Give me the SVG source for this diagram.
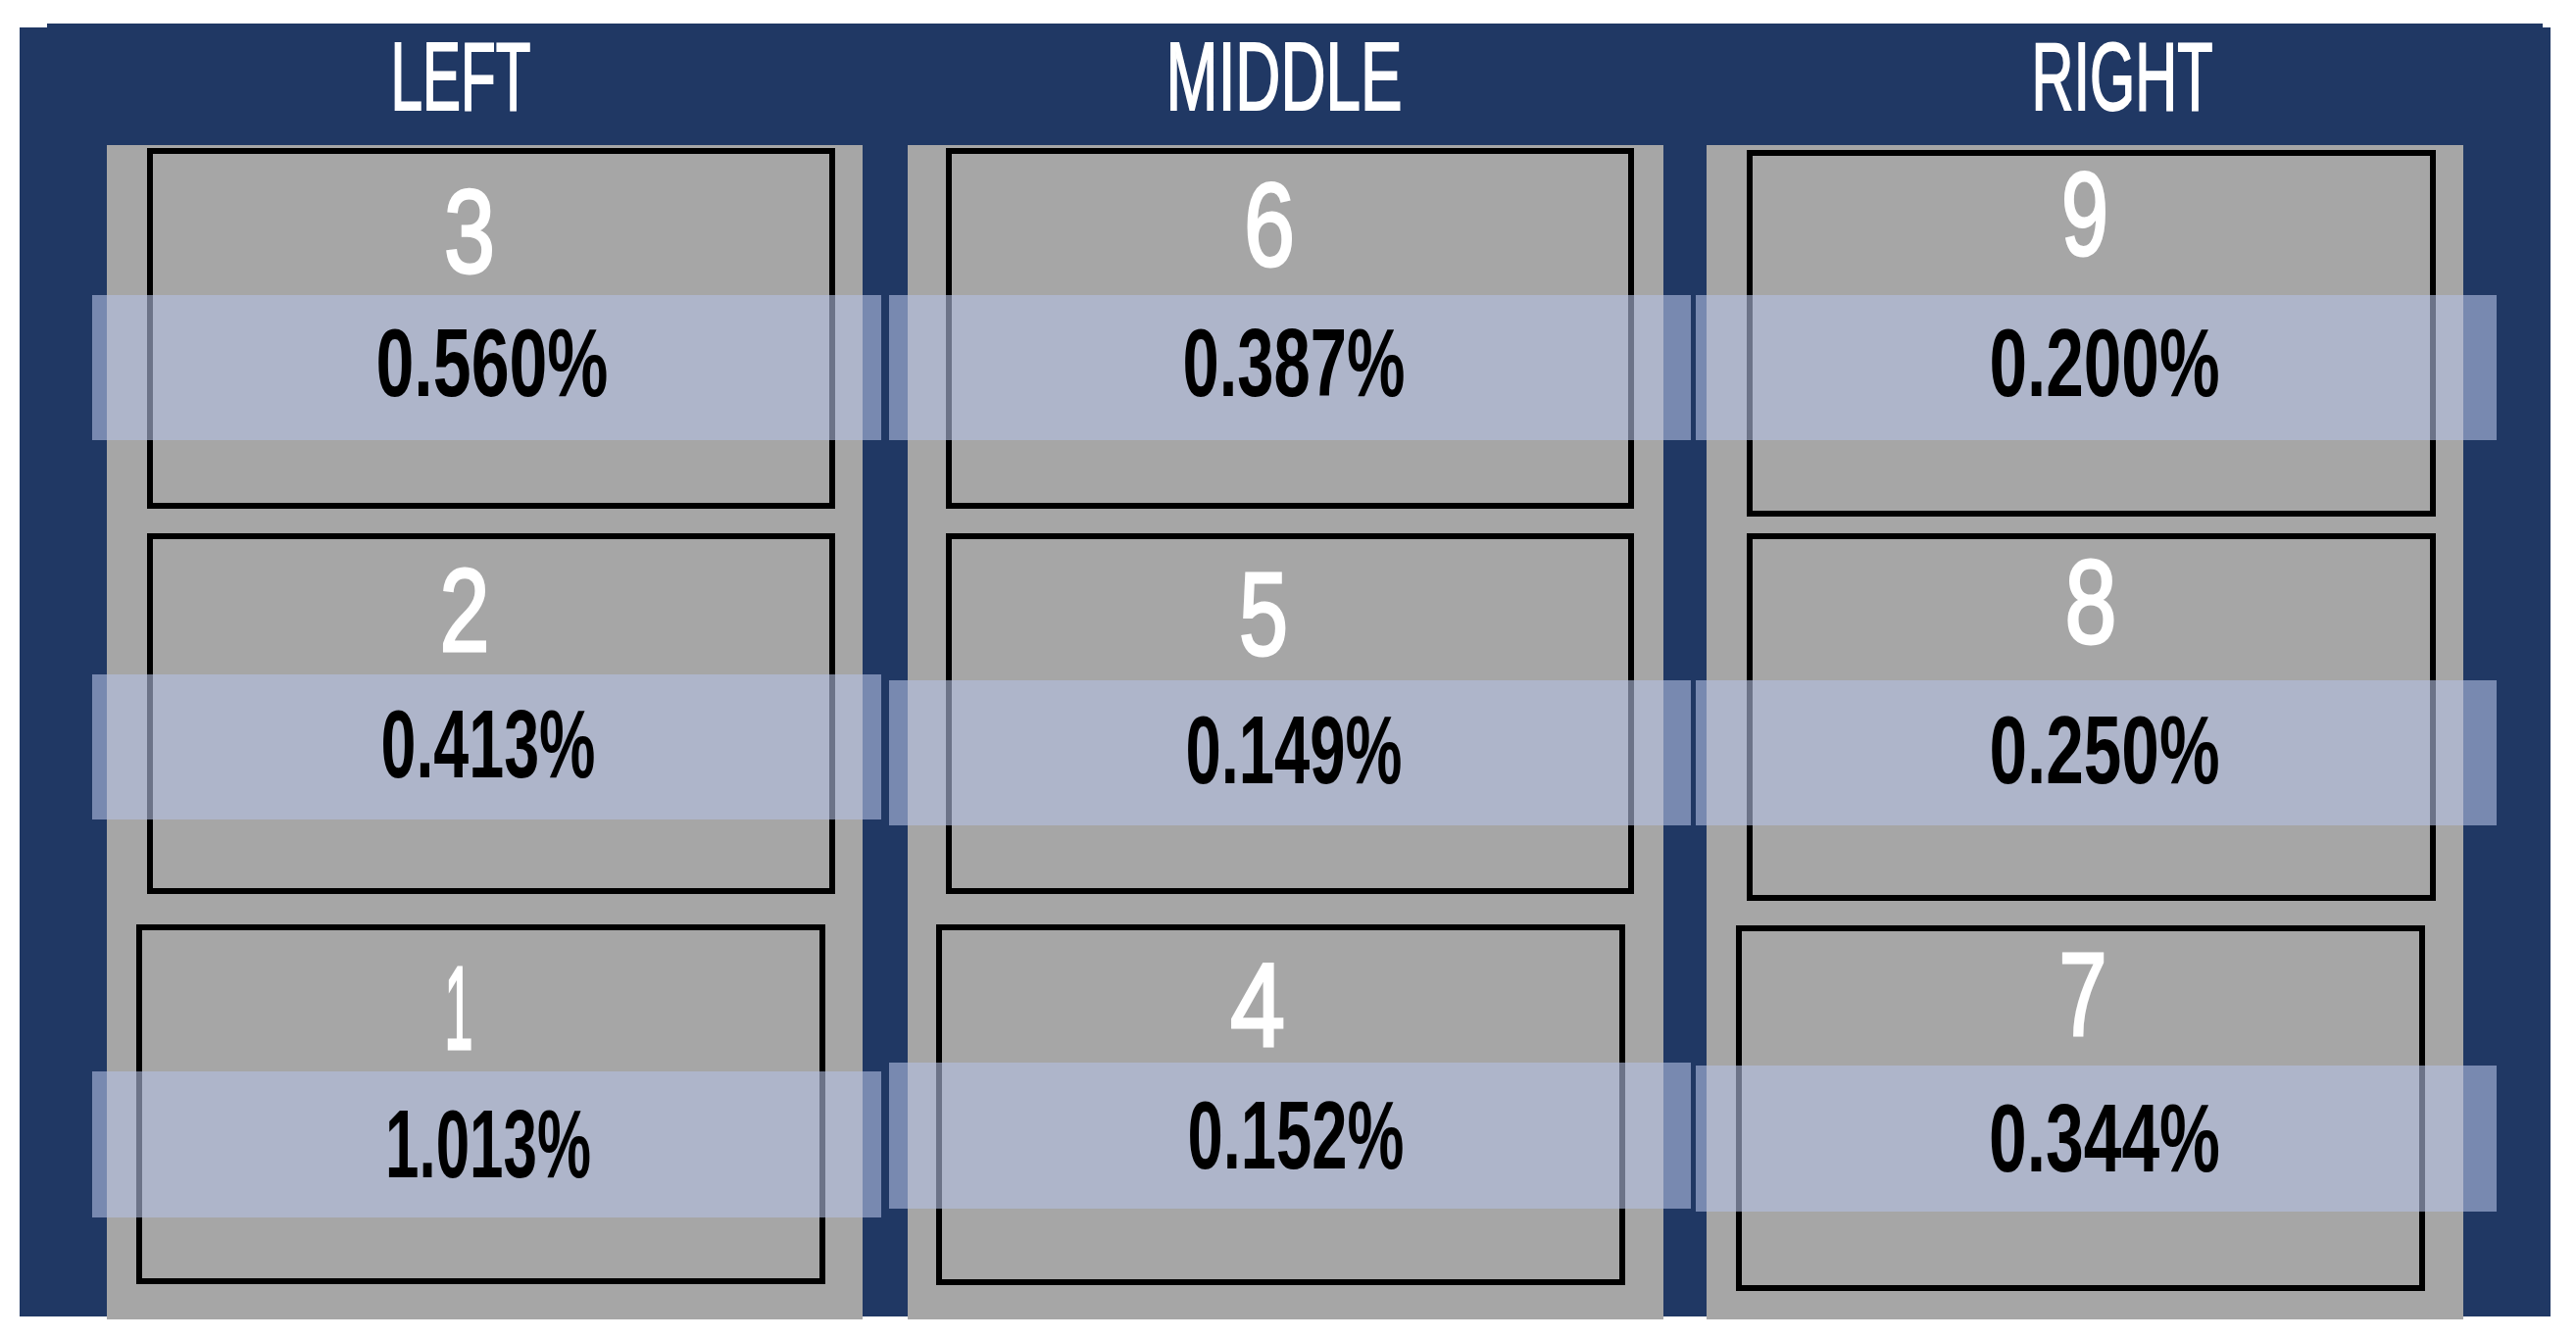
<svg xmlns="http://www.w3.org/2000/svg" width="2628" height="1367" viewBox="0 0 2628 1367">
<style>
.bg{fill:#203864}
.col{fill:#A6A6A6}
.box{fill:#A6A6A6;stroke:#000;stroke-width:6}
.band{fill:#B4C0E2;fill-opacity:0.6}
.hdr{font-family:"Liberation Sans",Arial,sans-serif;font-size:98px;fill:#fff;stroke:#fff;stroke-width:2;text-anchor:middle}
.num{font-family:"Liberation Sans",Arial,sans-serif;font-size:121px;fill:#fff;stroke:#fff;stroke-width:3;text-anchor:middle}
.pct{font-family:"Liberation Sans",Arial,sans-serif;font-weight:bold;font-size:99px;fill:#000;text-anchor:middle}
</style>
<rect width="2628" height="1367" fill="#fff"/>
<polygon class="bg" points="20,28 48,28 48,24 2594,24 2594,28 2602,28 2602,1343 20,1343"/>
<g id="headers">
<text class="hdr" x="470" y="112" textLength="143" lengthAdjust="spacingAndGlyphs">LEFT</text>
<text class="hdr" x="1310" y="112" textLength="241" lengthAdjust="spacingAndGlyphs">MIDDLE</text>
<text class="hdr" x="2165" y="112" textLength="185" lengthAdjust="spacingAndGlyphs">RIGHT</text>
</g>
<g id="columns">
<rect class="col" x="109" y="148" width="771" height="1198"/>
<rect class="col" x="926" y="148" width="771" height="1198"/>
<rect class="col" x="1741" y="148" width="772" height="1198"/>
</g>
<g id="node-3">
<rect class="box" x="153" y="154" width="696" height="362"/>
<text class="num" x="479" y="278" textLength="52" lengthAdjust="spacingAndGlyphs">3</text>
</g>
<g id="node-2">
<rect class="box" x="153" y="547" width="696" height="362"/>
<text class="num" x="474" y="664" textLength="51" lengthAdjust="spacingAndGlyphs">2</text>
</g>
<g id="node-1">
<rect class="box" x="142" y="946" width="697" height="361"/>
<text class="num" x="468" y="1070" textLength="29" lengthAdjust="spacingAndGlyphs">1</text>
</g>
<g id="node-6">
<rect class="box" x="968" y="154" width="696" height="362"/>
<text class="num" x="1295" y="271" textLength="52" lengthAdjust="spacingAndGlyphs">6</text>
</g>
<g id="node-5">
<rect class="box" x="968" y="547" width="696" height="362"/>
<text class="num" x="1289" y="668" textLength="50" lengthAdjust="spacingAndGlyphs">5</text>
</g>
<g id="node-4">
<rect class="box" x="958" y="946" width="697" height="362"/>
<text class="num" x="1283" y="1067" textLength="56" lengthAdjust="spacingAndGlyphs">4</text>
</g>
<g id="node-9">
<rect class="box" x="1785" y="156" width="697" height="368"/>
<text class="num" x="2127" y="260" textLength="48" lengthAdjust="spacingAndGlyphs">9</text>
</g>
<g id="node-8">
<rect class="box" x="1785" y="547" width="697" height="369"/>
<text class="num" x="2133" y="656" textLength="53" lengthAdjust="spacingAndGlyphs">8</text>
</g>
<g id="node-7">
<rect class="box" x="1774" y="947" width="697" height="367"/>
<text class="num" x="2125" y="1056" textLength="49" lengthAdjust="spacingAndGlyphs">7</text>
</g>
<g id="bands">
<rect class="band" x="94" y="301" width="805" height="148"/>
<rect class="band" x="907" y="301" width="818" height="148"/>
<rect class="band" x="1730" y="301" width="817" height="148"/>
<rect class="band" x="94" y="688" width="805" height="148"/>
<rect class="band" x="907" y="694" width="818" height="148"/>
<rect class="band" x="1730" y="694" width="817" height="148"/>
<rect class="band" x="94" y="1093" width="805" height="149"/>
<rect class="band" x="907" y="1084" width="818" height="149"/>
<rect class="band" x="1730" y="1087" width="817" height="149"/>
</g>
<g id="values">
<text class="pct" x="502" y="404" textLength="237" lengthAdjust="spacingAndGlyphs">0.560%</text>
<text class="pct" x="498" y="793" textLength="219" lengthAdjust="spacingAndGlyphs">0.413%</text>
<text class="pct" x="498" y="1201" textLength="210" lengthAdjust="spacingAndGlyphs">1.013%</text>
<text class="pct" x="1320" y="404" textLength="227" lengthAdjust="spacingAndGlyphs">0.387%</text>
<text class="pct" x="1320" y="799" textLength="221" lengthAdjust="spacingAndGlyphs">0.149%</text>
<text class="pct" x="1322" y="1192" textLength="221" lengthAdjust="spacingAndGlyphs">0.152%</text>
<text class="pct" x="2147" y="404" textLength="235" lengthAdjust="spacingAndGlyphs">0.200%</text>
<text class="pct" x="2147" y="799" textLength="235" lengthAdjust="spacingAndGlyphs">0.250%</text>
<text class="pct" x="2147" y="1195" textLength="236" lengthAdjust="spacingAndGlyphs">0.344%</text>
</g>
</svg>
